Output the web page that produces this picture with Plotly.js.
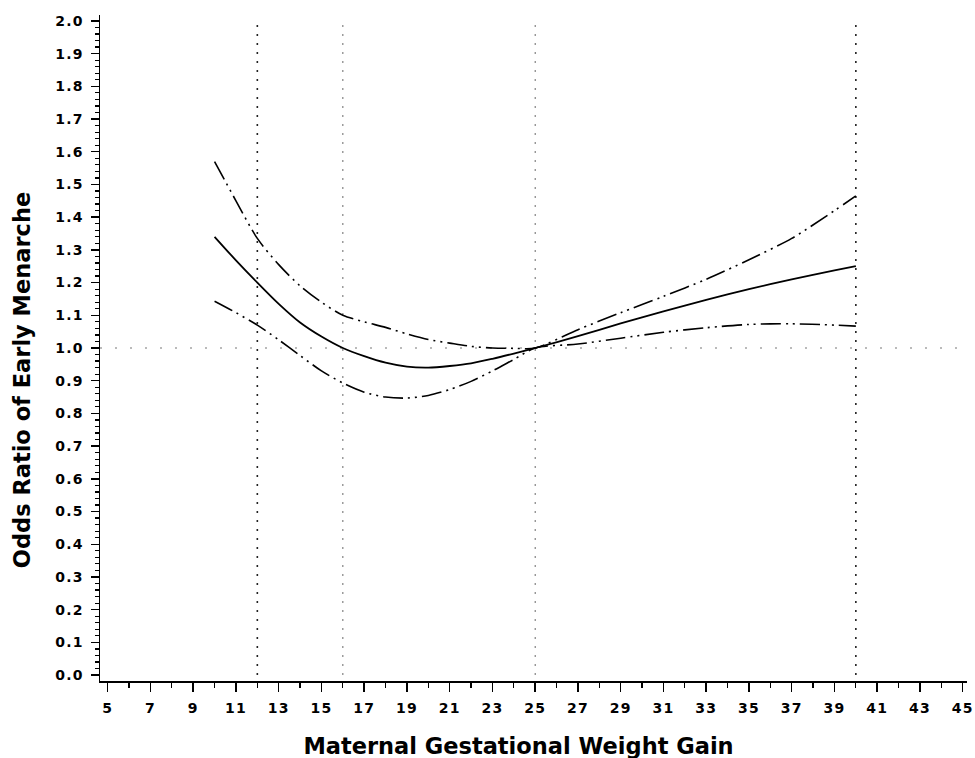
<!DOCTYPE html>
<html>
<head>
<meta charset="utf-8">
<script src="https://cdn.plot.ly/plotly-3.0.1.min.js"></script>
<style>
html,body{margin:0;padding:0;background:#fff;}
#chart{width:975px;height:758px;}
#chart .xtick text, #chart .ytick text{letter-spacing:1.2px;}
#chart .g-xtitle{transform:translate(-15px,0px);}
#chart .g-ytitle{transform:translate(0px,32px);}
</style>
</head>
<body>
<div id="chart"></div>
<script>
// Maternal gestational weight gain (x)
const gain = [10, 11, 12, 13, 14, 15, 16, 17, 18, 19, 20, 21, 22, 23, 24, 25, 27, 29, 31, 33, 35, 37, 39, 40];
// Odds ratio estimate (solid)
const oddsRatio = [1.34, 1.268, 1.20, 1.135, 1.078, 1.035, 1.00, 0.975, 0.955, 0.943, 0.940, 0.945, 0.953, 0.967, 0.983, 1.00, 1.036, 1.075, 1.112, 1.147, 1.18, 1.21, 1.237, 1.25];
// Upper 95% CI (dash-dot)
const upperCI = [1.57, 1.45, 1.335, 1.255, 1.19, 1.14, 1.10, 1.08, 1.063, 1.043, 1.026, 1.015, 1.005, 1.0, 0.999, 1.0, 1.056, 1.108, 1.158, 1.21, 1.27, 1.335, 1.42, 1.465];
// Lower 95% CI (dash-dot)
const lowerCI = [1.143, 1.108, 1.07, 1.025, 0.977, 0.93, 0.893, 0.865, 0.85, 0.847, 0.855, 0.873, 0.898, 0.93, 0.965, 1.0, 1.012, 1.03, 1.048, 1.062, 1.072, 1.074, 1.07, 1.067];
// Reference lines
const refX = [12, 16, 25, 40];
const refXStrong = [true, false, false, true];
const refY = 1.0;

const ciDash = "20px,5px,2px,5px,2px,5px";

const traces = [
  {x: gain, y: upperCI, mode: 'lines', line: {color: '#000', width: 1.6, dash: ciDash, shape: 'spline', smoothing: 0.8}, hoverinfo: 'skip', showlegend: false},
  {x: gain, y: lowerCI, mode: 'lines', line: {color: '#000', width: 1.6, dash: ciDash, shape: 'spline', smoothing: 0.8}, hoverinfo: 'skip', showlegend: false},
  {x: gain, y: oddsRatio, mode: 'lines', line: {color: '#000', width: 1.8, shape: 'spline', smoothing: 0.8}, hoverinfo: 'skip', showlegend: false}
];

const shapes = refX.map((v, i) => ({
  type: 'line', xref: 'x', yref: 'y', x0: v, x1: v, y0: 0, y1: 2.0, layer: 'below',
  line: {color: refXStrong[i] ? '#222' : '#777', width: refXStrong[i] ? 1.6 : 1.1, dash: '2px,7px'}
}));
shapes.push({
  type: 'line', xref: 'paper', yref: 'y', x0: 0, x1: 1, y0: refY, y1: refY, layer: 'below',
  line: {color: '#777', width: 1.1, dash: '2px,13px'}
});

const tickFont = {family: 'DejaVu Sans', size: 14, color: '#000', weight: 'bold'};
const titleFont = {family: 'DejaVu Sans', size: 22.5, color: '#000', weight: 'bold'};

const layout = {
  width: 975, height: 758,
  paper_bgcolor: '#fff', plot_bgcolor: '#fff',
  margin: {l: 100, r: 8, t: 15, b: 77},
  showlegend: false,
  shapes: shapes,
  xaxis: {
    range: [4.64, 45.2], showgrid: false, zeroline: false,
    showline: true, linecolor: '#000', linewidth: 1.5,
    tickmode: 'linear', tick0: 5, dtick: 2,
    ticks: 'outside', ticklen: 9, tickwidth: 1.5, tickcolor: '#000',
    ticklabelstandoff: 5, ticklabeloverflow: 'allow',
    minor: {dtick: 1, tick0: 5, ticks: 'outside', ticklen: 5, tickwidth: 1.2, tickcolor: '#000', showgrid: false},
    tickfont: tickFont,
    title: {text: 'Maternal Gestational Weight Gain', font: titleFont, standoff: 23}
  },
  yaxis: {
    range: [-0.018, 2.018], showgrid: false, zeroline: false,
    showline: true, linecolor: '#000', linewidth: 1.5,
    tickmode: 'linear', tick0: 0, dtick: 0.1, tickformat: '.1f',
    ticks: 'outside', ticklen: 8, tickwidth: 1.5, tickcolor: '#000',
    ticklabelstandoff: 4,
    minor: {dtick: 0.02, tick0: 0, ticks: 'outside', ticklen: 4, tickwidth: 1.2, tickcolor: '#000', showgrid: false},
    tickfont: tickFont,
    title: {text: 'Odds Ratio of Early Menarche', font: titleFont, standoff: 22}
  }
};

Plotly.newPlot('chart', traces, layout, {displayModeBar: false, staticPlot: true});
</script>
</body>
</html>
